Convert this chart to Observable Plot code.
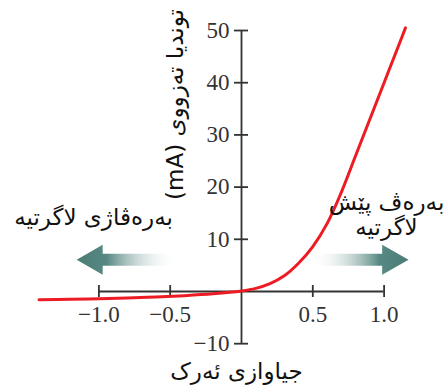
<!DOCTYPE html>
<html><head><meta charset="utf-8">
<script src="https://cdn.jsdelivr.net/npm/d3@7"></script>
<script src="https://cdn.jsdelivr.net/npm/@observablehq/plot@0.6"></script>
<style>body{margin:0;background:#fff}</style>
</head><body><div id="chart"></div>
<script>
// Data
const voltage = [-1.42, -1.2, -1.0, -0.8, -0.6, -0.4, -0.2, 0, 0.1, 0.2, 0.3, 0.4, 0.5, 0.6, 0.7, 0.8, 0.9, 1.0, 1.1, 1.15];
const current = [-1.6, -1.5, -1.4, -1.25, -1.05, -0.8, -0.45, 0.1, 0.6, 1.5, 3.0, 5.4, 8.6, 13.0, 19.0, 26.0, 33.0, 40.0, 47.0, 50.5];
const xTicks = [-1, -0.5, 0.5, 1];
const xTickLabels = ["−1.0", "−0.5", "0.5", "1.0"];
const yTicks = [50, 40, 30, 20, 10, -10];
const yTickLabels = ["50", "40", "30", "20", "10", "−10"];
const yLabel = "توندیا تەزووی (mA)";
const xLabel = "جیاوازی ئەرک";
const reverseLabel = "بەرەڤاژی لاگرتیە";
const forwardLabel = "بەرەڤ پێش\nلاگرتیە";

const points = voltage.map((v, i) => ({v, c: current[i]}));

// scale geometry (pixels per unit) used for small decorations
const W = 446, H = 391;
const xDom = [-1.690, 1.4376], yDom = [-19.16, 55.75];
const pxX = W / (xDom[1] - xDom[0]);
const pxY = H / (yDom[1] - yDom[0]);
const tickX = 6 / pxY, tickY = 7 / pxX;

function arrow(tip, base, tail, yc) {
  const head = 15 / pxY, shaft = 6 / pxY;
  return [
    {x: tip, y1: yc, y2: yc},
    {x: base, y1: yc - head, y2: yc + head},
    {x: base, y1: yc - shaft, y2: yc + shaft},
    {x: tail, y1: yc - shaft, y2: yc + shaft}
  ];
}
const arrowY = 6;
const leftArrow = arrow(-1.152, -0.97, -0.45, arrowY);
const rightArrow = arrow(1.175, 0.99, 0.495, arrowY);

const serif = "Liberation Serif, Times New Roman, serif";
const arabic = "DejaVu Sans, Noto Sans, sans-serif";
const axisColor = "#333";
const lbl = {frameAnchor: "top-left", textAnchor: "middle", lineAnchor: "middle",
  fontFamily: arabic, fontSize: 23, fill: "#111"};

const plot = Plot.plot({
  width: W, height: H, margin: 0,
  x: {domain: xDom, axis: null},
  y: {domain: yDom, axis: null},
  style: {background: "#fff", overflow: "visible"},
  marks: [
    Plot.areaY(leftArrow, {x: "x", y1: "y1", y2: "y2", fill: "url(#gradL)"}),
    Plot.areaY(rightArrow, {x: "x", y1: "y1", y2: "y2", fill: "url(#gradR)"}),
    // axes crossing at origin
    Plot.ruleY([0], {x1: xTicks[0], x2: xTicks[xTicks.length - 1], stroke: axisColor, strokeWidth: 1.8}),
    Plot.ruleX([0], {y1: yTicks[yTicks.length - 1], y2: yTicks[0], stroke: axisColor, strokeWidth: 1.8}),
    Plot.ruleX(xTicks, {x: d => d, y1: -tickX, y2: tickX, stroke: axisColor, strokeWidth: 1.8}),
    Plot.ruleY(yTicks, {y: d => d, x1: -tickY, x2: tickY, stroke: axisColor, strokeWidth: 1.8}),
    Plot.text(xTicks, {x: d => d, y: () => 0, text: (d, i) => xTickLabels[i], dy: 23,
      fontFamily: serif, fontSize: 23, fill: axisColor}),
    Plot.text(yTicks, {x: () => 0, y: d => d, text: (d, i) => yTickLabels[i], dx: -12, textAnchor: "end",
      fontFamily: serif, fontSize: 23, fill: axisColor}),
    // curve
    Plot.line(points, {x: "v", y: "c", stroke: "#ed1c24", strokeWidth: 3, curve: "catmull-rom"}),
    // labels
    Plot.text([yLabel], {...lbl, dx: 175, dy: 104, rotate: -90}),
    Plot.text([xLabel], {...lbl, dx: 236, dy: 371}),
    Plot.text([reverseLabel], {...lbl, dx: 93, dy: 217}),
    Plot.text([forwardLabel], {...lbl, dx: 386, dy: 214, lineHeight: 1.1})
  ]
});

// gradients for the arrows
const ns = "http://www.w3.org/2000/svg";
const defs = document.createElementNS(ns, "defs");
function grad(id, stops) {
  const g = document.createElementNS(ns, "linearGradient");
  g.setAttribute("id", id);
  g.setAttribute("x1", "0"); g.setAttribute("x2", "1");
  g.setAttribute("y1", "0"); g.setAttribute("y2", "0");
  for (const [o, c, a] of stops) {
    const s = document.createElementNS(ns, "stop");
    s.setAttribute("offset", o); s.setAttribute("stop-color", c); s.setAttribute("stop-opacity", a);
    g.appendChild(s);
  }
  defs.appendChild(g);
}
grad("gradL", [[0, "#4c7c76", 1], [0.3, "#588883", 1], [1, "#ffffff", 0]]);
grad("gradR", [[0, "#ffffff", 0], [0.7, "#588883", 1], [1, "#4c7c76", 1]]);
plot.insertBefore(defs, plot.firstChild);
plot.querySelectorAll("text").forEach(t => {
  if (/[\u0600-\u06FF]/.test(t.textContent)) t.setAttribute("direction", "rtl");
});
document.getElementById("chart").appendChild(plot);
</script>
</body></html>
